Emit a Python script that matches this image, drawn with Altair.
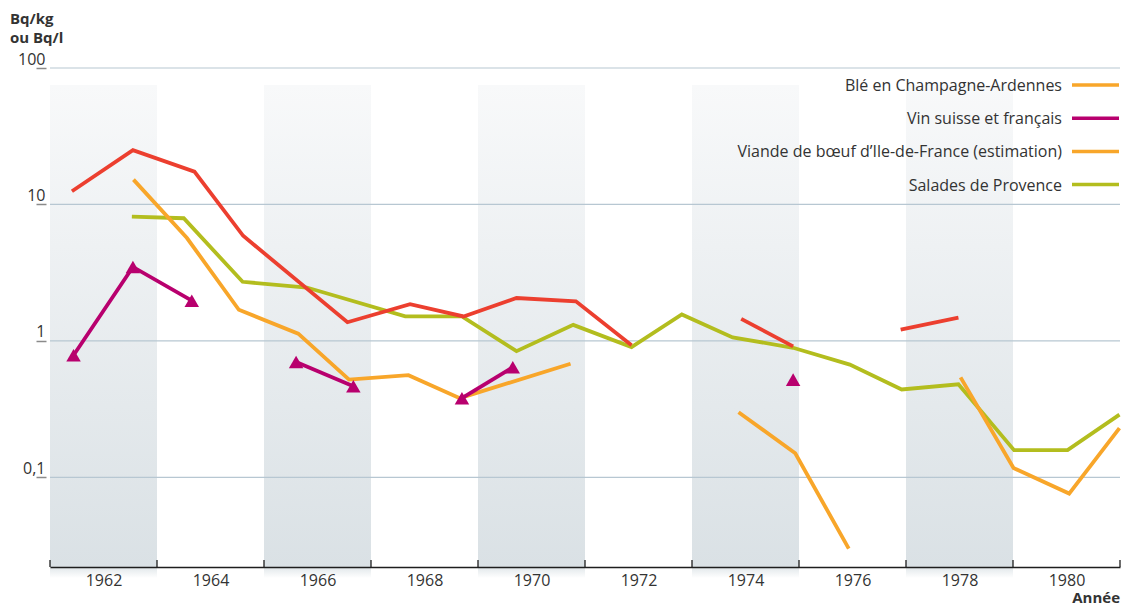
import altair as alt
import pandas as pd

# ---------------- Data ----------------
# Red series
rouge_annees = [1961.41, 1962.55, 1963.70, 1964.61, 1966.56, 1967.73, 1968.73, 1969.72,
                1970.83, 1971.87, 1973.92, 1974.89, 1976.90, 1977.98]
rouge_valeurs = [12.5, 25.0, 17.4, 5.89, 1.37, 1.86, 1.51, 2.06, 1.95, 0.93, 1.45, 0.91, 1.21, 1.48]
rouge_segments = [0, 0, 0, 0, 0, 0, 0, 0, 0, 0, 1, 1, 2, 2]

# Orange series
orange_annees = [1962.56, 1963.56, 1964.53, 1965.64, 1966.59, 1967.70, 1968.66, 1970.73,
                 1973.87, 1974.93, 1975.93, 1978.02, 1979.01, 1980.05, 1980.99]
orange_valeurs = [15.2, 5.67, 1.69, 1.13, 0.52, 0.56, 0.38, 0.68, 0.30, 0.15, 0.030,
                  0.54, 0.117, 0.076, 0.229]
orange_segments = [0, 0, 0, 0, 0, 0, 0, 0, 1, 1, 1, 2, 2, 2, 2]

# Green series (Salades de Provence)
vert_annees = [1962.53, 1963.50, 1964.60, 1965.80, 1967.64, 1968.70, 1969.72, 1970.78, 1971.87,
               1972.81, 1973.76, 1974.89, 1975.95, 1976.92, 1977.98, 1979.02, 1980.02, 1980.99]
vert_valeurs = [8.14, 7.92, 2.71, 2.46, 1.51, 1.51, 0.84, 1.31, 0.90, 1.56, 1.06, 0.89, 0.67,
                0.44, 0.48, 0.158, 0.158, 0.288]
vert_segments = [0] * 18

# Magenta series (Vin suisse et français), with triangle markers
vin_annees = [1961.44, 1962.55, 1963.65, 1965.60, 1966.67, 1968.70, 1969.65, 1974.89]
vin_valeurs = [0.785, 3.48, 1.97, 0.70, 0.465, 0.38, 0.64, 0.52]
vin_segments = [0, 0, 0, 1, 1, 2, 2, 3]

# Shaded year bands
bandes_debut = [1961, 1965, 1969, 1973, 1977]
bandes_fin = [1963, 1967, 1971, 1975, 1979]
bande_haut = 75.0

grille_valeurs = [100, 10, 1, 0.1]
annees_labels = [1962, 1964, 1966, 1968, 1970, 1972, 1974, 1976, 1978, 1980]
annees_ticks = [1961, 1963, 1965, 1967, 1969, 1971, 1973, 1975, 1977, 1979, 1981]

legende_textes = ["Blé en Champagne-Ardennes", "Vin suisse et français",
                  "Viande de bœuf d\u2019Ile-de-France (estimation)", "Salades de Provence"]

# ---------------- Styles ----------------
ROUGE = "#ec3f2f"
ORANGE = "#f8a62a"
MAGENTA = "#b8006e"
VERT = "#b3bd1e"
legende_couleurs = [ORANGE, MAGENTA, ORANGE, VERT]
FONT = "Open Sans"
TXT = "#333333"
W, H = 1070, 499

xscale = alt.Scale(domain=[1961, 1981], nice=False, zero=False)
yscale = alt.Scale(type="log", domain=[0.022, 100], nice=False)

xaxis = alt.Axis(values=annees_labels, format="d", ticks=False, grid=False,
                 domainColor="#1e1e1e", domainWidth=1.5, labelFont=FONT, labelFontSize=16,
                 labelColor=TXT, labelPadding=5, labelOverlap=False, labelFlush=False,
                 title=None, zindex=2)
yaxis = alt.Axis(values=grille_valeurs, labelExpr="replace(format(datum.value, '~g'), '.', ',')",
                 domain=False, grid=False, tickSize=10, tickColor="#8a8a8a", tickWidth=1.5,
                 offset=4, labelPadding=-9, labelBaseline="alphabetic", labelOffset=-4,
                 labelAlign="right", labelFont=FONT, labelFontSize=16, labelColor=TXT,
                 labelOverlap=False, title=None)


def X(field):
    return alt.X(field, type="quantitative", scale=xscale, axis=xaxis, title=None)


def Y(field):
    return alt.Y(field, type="quantitative", scale=yscale, axis=yaxis, title=None)


bandes_df = pd.DataFrame({"debut": bandes_debut, "fin": bandes_fin,
                          "haut": [bande_haut] * len(bandes_debut),
                          "bas": [0.022] * len(bandes_debut)})

grad = alt.LinearGradient(gradient="linear", x1=0, x2=0, y1=0, y2=1,
                          stops=[alt.GradientStop(color="#f8f9fa", offset=0),
                                 alt.GradientStop(color="#dae1e5", offset=1)])
bandes = alt.Chart(bandes_df).mark_rect(color=grad).encode(
    x=X("debut"), x2="fin", y=Y("haut"), y2="bas")

grad_bas = alt.LinearGradient(gradient="linear", x1=0, x2=0, y1=0, y2=1,
                              stops=[alt.GradientStop(color="#e1e7ea", offset=0),
                                     alt.GradientStop(color="#ffffff", offset=1)])
bandes_bas = alt.Chart(bandes_df).mark_rect(color=grad_bas).encode(
    x=X("debut"), x2="fin", y=alt.value(H), y2=alt.value(H + 11))

grille = alt.Chart(pd.DataFrame({"v": grille_valeurs})).mark_rule(
    color="#b7c7d2", strokeWidth=1.2).encode(y=Y("v"), x=alt.value(0), x2=alt.value(W))

ticks = alt.Chart(pd.DataFrame({"a": annees_ticks})).mark_rule(
    color="#1e1e1e", strokeWidth=1.3).encode(x=X("a"), y=alt.value(H - 7), y2=alt.value(H))


def serie(annees, valeurs, segments, couleur):
    df = pd.DataFrame({"annee": annees, "valeur": valeurs, "seg": segments})
    return alt.Chart(df).mark_line(color=couleur, strokeWidth=3.8, strokeCap="butt").encode(
        x=X("annee"), y=Y("valeur"), detail="seg:N", order="annee:Q")


l_vert = serie(vert_annees, vert_valeurs, vert_segments, VERT)
l_rouge = serie(rouge_annees, rouge_valeurs, rouge_segments, ROUGE)
l_orange = serie(orange_annees, orange_valeurs, orange_segments, ORANGE)
l_vin = serie(vin_annees, vin_valeurs, vin_segments, MAGENTA)
vin_pts = alt.Chart(pd.DataFrame({"annee": vin_annees, "valeur": vin_valeurs})).mark_point(
    shape="triangle-up", filled=True, size=210, opacity=1, color=MAGENTA).encode(
    x=X("annee"), y=Y("valeur"))

layers = [bandes, bandes_bas, grille, l_vert, l_rouge, l_orange, l_vin, vin_pts, ticks]

# Legend (drawn by hand: label on the left, swatch on the right)
for i, (t, c) in enumerate(zip(legende_textes, legende_couleurs)):
    yy = 17 + i * 33.2
    one = pd.DataFrame({"t": [t]})
    layers.append(alt.Chart(one).mark_text(
        align="right", baseline="middle", font=FONT, fontSize=16, color=TXT).encode(
        text="t:N", x=alt.value(1012), y=alt.value(yy + 1)))
    layers.append(alt.Chart(one).mark_rule(color=c, strokeWidth=3.5).encode(
        x=alt.value(1022), x2=alt.value(1069), y=alt.value(yy)))

titres = [("Bq/kg", -40, -44, "left", 15), ("ou Bq/l", -40, -25, "left", 15),
          ("Année", W, 535, "right", 15)]
for t, xx, yy, al, fs in titres:
    layers.append(alt.Chart(pd.DataFrame({"t": [t]})).mark_text(
        align=al, baseline="alphabetic", font=FONT, fontSize=fs, fontWeight="bold",
        color=TXT).encode(text="t:N", x=alt.value(xx), y=alt.value(yy)))

chart = alt.layer(*layers).properties(
    width=W, height=H, autosize="none",
    padding={"left": 42, "top": 60, "right": 5, "bottom": 42},
    background="white",
).configure_view(stroke=None)

chart.save("out.html", embed_options={"renderer": "svg", "actions": False})
